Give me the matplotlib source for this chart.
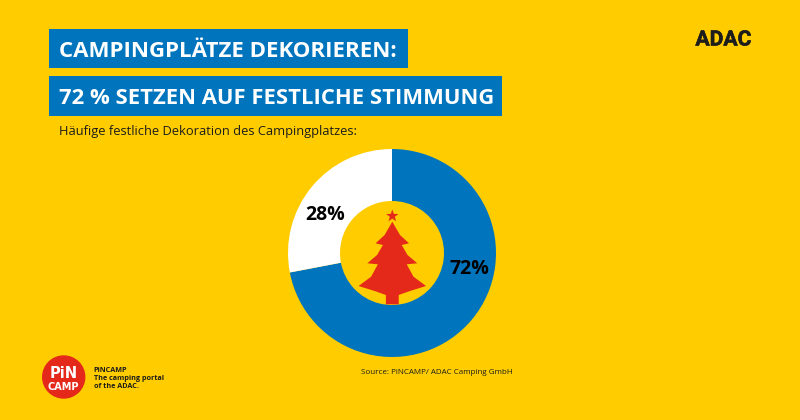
import math
import matplotlib
matplotlib.use("Agg")
import matplotlib.pyplot as plt
import matplotlib.patheffects as pe
from matplotlib.patches import Rectangle, Polygon, Circle

segment_names = ["Ja", "Nein"]
segment_values = [72, 28]
segment_labels = ["72%", "28%"]
title_lines = ["CAMPINGPLÄTZE DEKORIEREN:", "72 % SETZEN AUF FESTLICHE STIMMUNG"]
subtitle = "Häufige festliche Dekoration des Campingplatzes:"
source = "Source: PiNCAMP/ ADAC Camping GmbH"

YELLOW = "#FFCC00"
BLUE = "#0075BE"
RED = "#E4291A"
DARK = "#1D1D1B"
FONT = "Open Sans"

fig = plt.figure(figsize=(8, 4.2), dpi=100, facecolor=YELLOW)
bg = fig.add_axes([0, 0, 1, 1])
bg.set_xlim(0, 800); bg.set_ylim(420, 0); bg.axis("off")

# title bars
bg.add_patch(Rectangle((49, 29), 359, 39, fc=BLUE, ec="none"))
bg.add_patch(Rectangle((49, 76), 453, 40, fc=BLUE, ec="none"))
bg.text(59, 49, title_lines[0], color="white", fontsize=16.0, fontweight="bold", family=FONT, va="center_baseline")
bg.text(59, 96, title_lines[1], color="white", fontsize=15.8, fontweight="bold", family=FONT, va="center_baseline")
bg.text(59, 130, subtitle, color=DARK, fontsize=9.3, family=FONT, va="center_baseline")

# ADAC mark
bg.text(723.5, 38, "ADAC", color=DARK, fontsize=15.2, fontweight="bold", family="Roboto", ha="center",
        va="center_baseline", path_effects=[pe.withStroke(linewidth=0.4, foreground=DARK)])

# donut
cx, cy, r = 392, 253, 104
pie_ax = fig.add_axes([(cx - r) / 800, 1 - (cy + r) / 420, 2 * r / 800, 2 * r / 420])
pie_ax.pie(segment_values, colors=[BLUE, "white"], startangle=90, counterclock=False,
           radius=1, wedgeprops=dict(width=0.5, linewidth=0))
pie_ax.set_xlim(-1, 1); pie_ax.set_ylim(-1, 1)

ov = fig.add_axes([0, 0, 1, 1])
ov.set_xlim(0, 800); ov.set_ylim(420, 0); ov.axis("off"); ov.patch.set_alpha(0)
ov.text(469.5, 267, segment_labels[0], fontsize=14, fontweight="bold", family=FONT, color="black", ha="center", va="center_baseline")
ov.text(325, 212, segment_labels[1], fontsize=14, fontweight="bold", family=FONT, color="black", ha="center", va="center_baseline")

# tree decoration
tx = 392.3
half = [(tx, 221.7), (400, 235), (409, 243.3), (401.7, 245), (407.5, 255), (417.3, 263.3),
        (406.7, 264.3), (413.5, 276.7), (426, 286), (410, 291), (398.7, 295), (398.7, 304.3)]
tree = half + [(2 * tx - x, y) for x, y in reversed(half[1:])]
ov.add_patch(Polygon(tree, closed=True, fc=RED, ec="none"))
star = []
for i in range(10):
    rad = 6.5 if i % 2 == 0 else 2.6
    a = math.radians(-90 + 36 * i)
    star.append((tx + rad * math.cos(a), 216 + rad * math.sin(a)))
ov.add_patch(Polygon(star, closed=True, fc=RED, ec="none"))

# PiNCAMP logo
ov.add_patch(Circle((63.7, 377), 21.7, fc=RED, ec="none"))
ov.text(63.7, 372.5, "PiN", color="white", fontsize=10.5, fontweight="bold", family="DejaVu Sans", ha="center", va="center_baseline")
ov.text(63.7, 386, "CAMP", color="white", fontsize=7, fontweight="bold", family="DejaVu Sans", ha="center", va="center_baseline")
for y, line in zip((369, 378, 386), ("PiNCAMP", "The camping portal", "of the ADAC.")):
    ov.text(93.5, y, line, color=DARK, fontsize=5.25, fontweight="bold", family=FONT, va="center_baseline")

ov.text(361, 372, source, color=DARK, fontsize=5.8, family=FONT, va="center_baseline")

fig.savefig("out.png", dpi=100, facecolor=YELLOW)
